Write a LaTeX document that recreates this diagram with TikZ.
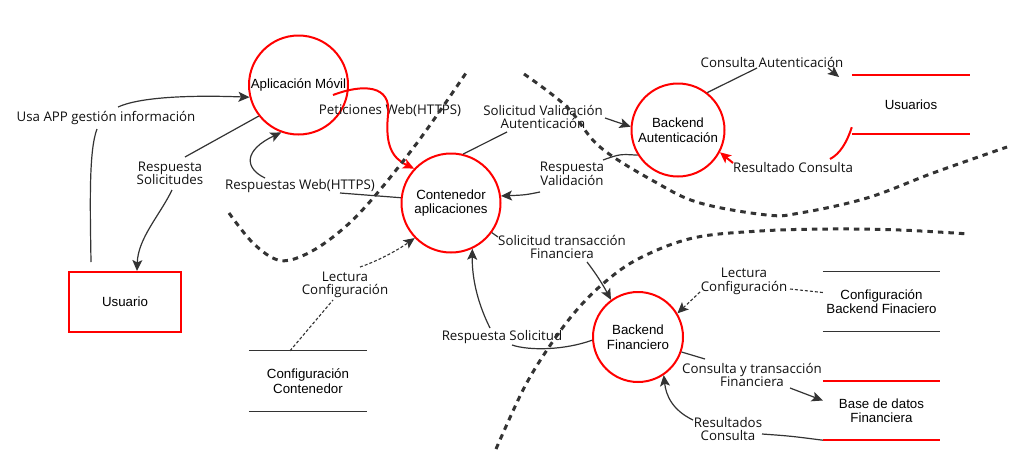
\documentclass[tikz,border=0pt]{standalone}
\usepackage{fontspec}
\setmainfont{Liberation Sans}
\newfontfamily\lblfont{Open Sans}
\usetikzlibrary{arrows.meta}
\definecolor{dred}{HTML}{FF0000}
\definecolor{ink}{HTML}{333333}
\definecolor{txt}{HTML}{111111}
\tikzset{
 proc/.style={circle, draw=dred, line width=2pt, inner sep=0pt, align=center,
   font=\fontsize{13.3}{14.5}\selectfont, text=black},
 ent/.style={rectangle, draw=dred, line width=2pt, minimum width=112pt, minimum height=60pt,
   font=\fontsize{13.3}{14.5}\selectfont, text=black},
 store/.style={rectangle, draw=none, align=center, inner sep=0pt,
   font=\fontsize{13.3}{14.5}\selectfont, text=black},
 lbl/.style={font=\lblfont\fontsize{13.3}{13.6}\selectfont, align=center, inner sep=0.5pt, text=txt},
 ln/.style={draw=ink, line width=1.2pt},
 arr/.style={ln, -{Stealth[length=11pt,width=10pt,inset=2.5pt]}},
 redln/.style={draw=dred, line width=2pt},
 redarr/.style={redln, -{Stealth[length=11pt,width=10pt,inset=2.5pt]}},
 dsh/.style={draw=ink, line width=1.1pt, dash pattern=on 3pt off 2pt},
 dsharr/.style={dsh, -{Stealth[length=11pt,width=10pt,inset=2.5pt]}},
 bound/.style={draw=ink, line width=3pt, dash pattern=on 5.5pt off 5pt},
 redstore/.style={draw=dred, line width=2.2pt},
 graystore/.style={draw=ink, line width=1.3pt},
}
\begin{document}
\begin{tikzpicture}[x=1pt,y=-1pt]
\fill[white] (0,0) rectangle (1009,458);
\useasboundingbox (0,0) rectangle (1009,458);

% processes and entity
\node[proc, minimum size=99pt] (app) at (298.5,85) {Aplicación Móvil};
\node[proc, minimum size=99pt] (cont) at (451,203) {Contenedor\\aplicaciones};
\node[proc, minimum size=93pt] (bauth) at (678,130) {Backend\\Autenticación};
\node[proc, minimum size=90pt] (bfin) at (638,337) {Backend\\Financiero};
\node[ent] (usuario) at (125,302) {Usuario};

% data stores
\node[store, minimum width=118pt, minimum height=59pt] (usrS) at (911,104.5) {Usuarios};
\node[store, minimum width=118pt, minimum height=60pt] (cfgC) at (308,381) {Configuración\\Contenedor};
\node[store, minimum width=117pt, minimum height=59pt] (cfgB) at (881.5,301.5) {Configuración\\Backend Finaciero};
\node[store, minimum width=117pt, minimum height=59pt] (bd) at (881.5,410.5) {Base de datos\\Financiera};
\draw[redstore] (usrS.north west) -- (usrS.north east) (usrS.south west) -- (usrS.south east);
\draw[redstore] (bd.north west) -- (bd.north east) (bd.south west) -- (bd.south east);
\draw[graystore] (cfgC.north west) -- (cfgC.north east) (cfgC.south west) -- (cfgC.south east);
\draw[graystore] (cfgB.north west) -- (cfgB.north east) (cfgB.south west) -- (cfgB.south east);

% labels
\node[lbl] (L1) at (106,118) {Usa APP gestión información};
\node[lbl] (L2) at (170,173.5) {Respuesta\\Solicitudes};
\node[lbl] (L3) at (300,186) {Respuestas Web(HTTPS)};
\node[lbl] (LP) at (390,110) {Peticiones Web(HTTPS)};
\node[lbl] (L4) at (345,285) {Lectura\\Configuración};
\node[lbl] (L5) at (543,117) {Solicitud Validación\\Autenticación};
\node[lbl] (L6) at (572,174) {Respuesta\\Validación};
\node[lbl] (L7) at (562,247) {Solicitud transacción\\Financiera};
\node[lbl] (L8) at (502,337) {Respuesta Solicitud};
\node[lbl] (L9) at (744,281.5) {Lectura\\Configuración};
\node[lbl] (L10) at (752,375) {Consulta y transacción\\Financiera};
\node[lbl] (L11) at (728,429) {Resultados\\Consulta};
\node[lbl] (L12) at (772,62) {Consulta Autenticación};
\node[lbl] (L13) at (793,168) {Resultado Consulta};

% free ends
\coordinate (uTop) at (91,262);
\coordinate (pStart) at (333,95);
\coordinate (usrTip) at (839,77);

% Usa APP gestion informacion
\draw[ln] (uTop) .. controls (90,200) and (89,150) .. (97,129);
\draw[arr] (118,107) .. controls (140,97) and (190,95) .. (app.194);
% Respuesta Solicitudes
\draw[ln] (app.218) -- (185,157);
\draw[arr] (172,190) .. controls (160,215) and (138,238) .. ([xshift=12pt]usuario.north);
% Respuestas Web
\draw[ln] (cont.174) -- (340,193);
\draw[arr] (265,178) .. controls (244,168) and (244,150) .. (app.250);
% Peticiones Web (red)
\draw[redarr] (pStart) .. controls (362,84) and (392,84) .. (388,115) .. controls (385,145) and (392,158) .. (cont.137);
% Lectura configuracion (contenedor)
\draw[dsh] ([xshift=-18pt]cfgC.north) -- (333,300);
\draw[dsharr] (360,267) .. controls (375,262) and (395,252) .. (cont.224);
% Solicitud Validacion
\draw[ln] (cont.76) -- (507,132);
\draw[arr] (605,118) -- (bauth.176);
% Respuesta Validacion
\draw[ln] (bauth.212) .. controls (620,154) .. (603,160);
\draw[arr] (540,192) .. controls (525,195) .. (cont.8);
% Solicitud transaccion financiera
\draw[ln] (cont.324) -- (498,237);
\draw[arr] (587,262) .. controls (597,275) and (603,285) .. (bfin.126);
% Respuesta Solicitud
\draw[ln] (bfin.184) .. controls (565,350) and (530,351) .. (512,345);
\draw[arr] (490,328) .. controls (476,300) and (472,275) .. (cont.295);
% Lectura configuracion (backend)
\draw[dsh] ([yshift=9pt]cfgB.west) -- (790,289);
\draw[dsharr] (700,292) -- (bfin.31);
% Consulta y transaccion financiera
\draw[ln] (bfin.341) -- (705,359);
\draw[arr] (790,388) -- ([yshift=10pt]bd.west);
% Resultados consulta
\draw[ln] (bd.south west) .. controls (790,436) .. (762,434);
\draw[arr] (693,420) .. controls (672,410) and (666,395) .. (bfin.304);
% Consulta Autenticacion
\draw[ln] (bauth.52) -- (757,68);
\draw[arr] (828,68) -- (usrTip);
% Resultado Consulta (red)
\draw[redln] ([yshift=7pt]usrS.south west) .. controls (847,142) and (840,154) .. (830,159);
\draw[redarr] (733,163) -- (bauth.332);

% trust boundaries
\draw[bound] plot[smooth, tension=0.6] coordinates {(229,213) (253,243) (278,260) (302,256) (333,237) (367,205) (417,143) (466,73)};
\draw[bound] plot[smooth, tension=0.6] coordinates {(524,74) (567,107) (600,147) (657,183) (700,203) (767,215) (800,213) (867,198) (933,173) (1007,147)};
\draw[bound] plot[smooth, tension=0.6] coordinates {(496,449) (523,390) (547,350) (575,312) (605,282) (640,258) (693,238) (760,231) (830,229) (900,230) (969,234)};
\end{tikzpicture}
\end{document}
